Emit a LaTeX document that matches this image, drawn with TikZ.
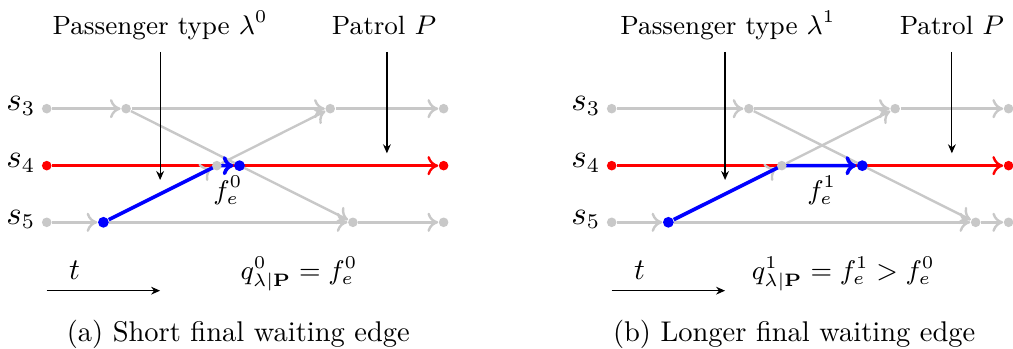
\documentclass[tikz,border=0pt]{standalone}
\usetikzlibrary{arrows.meta,backgrounds}
\definecolor{lgray}{RGB}{200,200,200}
\begin{document}
\begin{tikzpicture}[x=18.9pt,y=-18.9pt,
  dot/.style={circle,inner sep=0pt,minimum size=3.2pt},
  gdot/.style={dot,fill=lgray},
  rdot/.style={dot,fill=red},
  bdot/.style={dot,fill=blue,minimum size=3.6pt},
  gedge/.style={draw=lgray,line width=0.8pt,-{To[length=3.6pt,width=6.4pt]}},
  redge/.style={draw=red,line width=0.8pt,-{To[length=3.6pt,width=6.4pt]}},
  bedge/.style={draw=blue,line width=1.2pt,-{To[length=3.6pt,width=6.4pt]}},
  ann/.style={draw=black,line width=0.4pt,-{Stealth[length=3pt,width=2.6pt]}},
  slab/.style={anchor=base east,inner sep=0pt,font=\fontsize{10.6}{12}\selectfont},
  smalltext/.style={font=\fontsize{8.8}{10.5}\selectfont},
  captext/.style={anchor=base,font=\fontsize{9.5}{11.5}\selectfont}]
\useasboundingbox (0,0) rectangle (17.866,6.155);
\def\ya{1.917}\def\yb{2.922}\def\yc{3.921}
% ---------------- panel (a)
\begin{scope}[shift={(0.824,0)}]
  \node[slab] (la3) at (-0.19,\ya+0.03) {$s_3$};
  \node[slab] (la4) at (-0.19,\yb+0.03) {$s_4$};
  \node[slab] (la5) at (-0.19,\yc+0.03) {$s_5$};
  \node[gdot] (a30) at (0,\ya) {};
  \node[gdot] (a31) at (1.4,\ya) {};
  \node[gdot] (a32) at (5,\ya) {};
  \node[gdot] (a33) at (7,\ya) {};
  \node[rdot] (a40) at (0,\yb) {};
  \node[gdot] (a4g) at (3,\yb) {};
  \node[bdot] (a4b) at (3.4,\yb) {};
  \node[rdot] (a41) at (7,\yb) {};
  \node[gdot] (a50) at (0,\yc) {};
  \node[bdot] (a51) at (1,\yc) {};
  \node[gdot] (a52) at (5.4,\yc) {};
  \node[gdot] (a53) at (7,\yc) {};
  \begin{scope}[on background layer]
    \draw[redge] (a40) -- (a41);
    \draw[gedge] (a30) -- (a31);
    \draw[gedge] (a31) -- (a32);
    \draw[gedge] (a32) -- (a33);
    \draw[gedge] (a50) -- (a51);
    \draw[gedge] (a51) -- (a52);
    \draw[gedge] (a52) -- (a53);
    \draw[gedge] (a31) -- (a52);
    \draw[gedge] (a4g) -- (a32);
    \draw[gedge] (a51) -- (a4g);
    \draw[bedge] (a51) -- (a4g.center) -- (a4b);
  \end{scope}
  \path (a4g) -- (a4b) node[midway,below,smalltext] (fa) {$f_e^0$};
  \node[anchor=base,smalltext] (pa) at (2.0,0.605) {Passenger type $\lambda^0$};
  \node[anchor=base,smalltext] (ra) at (5.95,0.605) {Patrol $P$};
  \coordinate (pa1) at (2,0.917); \coordinate (pa2) at (2,3.175);
  \coordinate (ra1) at (6,0.917); \coordinate (ra2) at (6,2.704);
  \draw[ann] (pa1) -- (pa2);
  \draw[ann] (ra1) -- (ra2);
  \node[anchor=base] (ta) at (0.49,4.938) {$t$};
  \coordinate (ta1) at (0,5.127); \coordinate (ta2) at (2,5.127);
  \draw[ann] (ta1) -- (ta2);
  \node[anchor=base,smalltext] (qa) at (4.45,4.938) {$q^0_{\lambda|\mathbf{P}} = f_e^0$};
\end{scope}
\node[captext] (capa) at (4.203,6.023) {(a) Short final waiting edge};
% ---------------- panel (b)
\begin{scope}[shift={(10.788,0)}]
  \node[slab] (lb3) at (-0.19,\ya+0.03) {$s_3$};
  \node[slab] (lb4) at (-0.19,\yb+0.03) {$s_4$};
  \node[slab] (lb5) at (-0.19,\yc+0.03) {$s_5$};
  \node[gdot] (b30) at (0,\ya) {};
  \node[gdot] (b31) at (2.42,\ya) {};
  \node[gdot] (b32) at (5,\ya) {};
  \node[gdot] (b33) at (7,\ya) {};
  \node[rdot] (b40) at (0,\yb) {};
  \node[gdot] (b4g) at (3,\yb) {};
  \node[bdot] (b4b) at (4.42,\yb) {};
  \node[rdot] (b41) at (7,\yb) {};
  \node[gdot] (b50) at (0,\yc) {};
  \node[bdot] (b51) at (1,\yc) {};
  \node[gdot] (b52) at (6.42,\yc) {};
  \node[gdot] (b53) at (7,\yc) {};
  \begin{scope}[on background layer]
    \draw[redge] (b40) -- (b41);
    \draw[gedge] (b30) -- (b31);
    \draw[gedge] (b31) -- (b32);
    \draw[gedge] (b32) -- (b33);
    \draw[gedge] (b50) -- (b51);
    \draw[gedge] (b51) -- (b52);
    \draw[gedge] (b52) -- (b53);
    \draw[gedge] (b31) -- (b52);
    \draw[gedge] (b4g) -- (b32);
    \draw[gedge] (b51) -- (b4g);
    \draw[bedge] (b51) -- (b4g.center) -- (b4b);
  \end{scope}
  \path (b4g) -- (b4b) node[midway,below,smalltext] (fb) {$f_e^1$};
  \node[anchor=base,smalltext] (pb) at (2.05,0.605) {Passenger type $\lambda^1$};
  \node[anchor=base,smalltext] (rb) at (6.0,0.605) {Patrol $P$};
  \coordinate (pb1) at (2,0.917); \coordinate (pb2) at (2,3.175);
  \coordinate (rb1) at (6,0.917); \coordinate (rb2) at (6,2.704);
  \draw[ann] (pb1) -- (pb2);
  \draw[ann] (rb1) -- (rb2);
  \node[anchor=base] (tb) at (0.49,4.938) {$t$};
  \coordinate (tb1) at (0,5.127); \coordinate (tb2) at (2,5.127);
  \draw[ann] (tb1) -- (tb2);
  \node[anchor=base,smalltext] (qb) at (4.085,4.938) {$q^1_{\lambda|\mathbf{P}} = f_e^1 > f_e^0$};
\end{scope}
\node[captext] (capb) at (14.007,6.023) {(b) Longer final waiting edge};
\end{tikzpicture}
\end{document}
